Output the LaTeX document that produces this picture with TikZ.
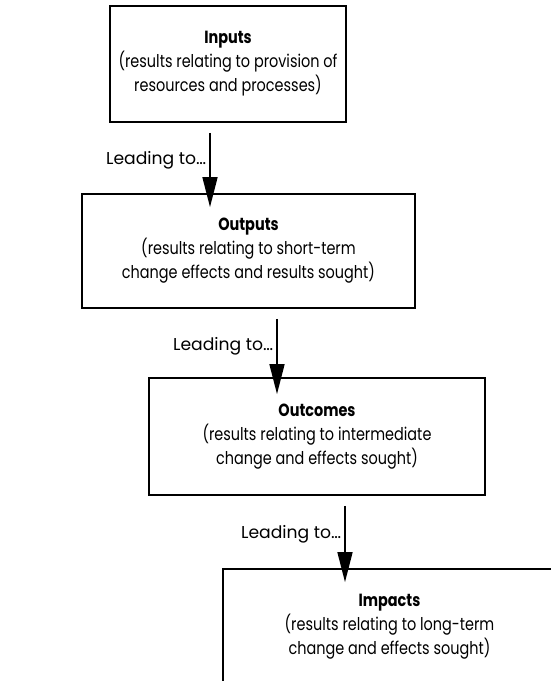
\documentclass[tikz,border=0pt]{standalone}
\usepackage{fontspec}
\setmainfont{Poppins}[FakeStretch=0.82]
\newfontfamily\leadfont{Poppins}
\usetikzlibrary{arrows.meta}

\begin{document}
\begin{tikzpicture}[x=1pt, y=-1pt,
    stage/.style={draw, line width=1.8pt, align=center, inner sep=0pt,
      font=\fontsize{17.6}{24}\selectfont},
    flow/.style={-{Triangle[length=30pt, width=15pt]}, line width=1.6pt},
    lead/.style={left, inner sep=3pt, font=\leadfont\fontsize{17.2}{20}\selectfont}]
  \useasboundingbox (0,0) rectangle (551,681);
  \clip (0,0) rectangle (551,681);

  % Inputs
  \node[stage, minimum width=236pt, minimum height=116pt] (inputs) at (228,64)
    {\textbf{Inputs}\\(results relating to provision of\\resources and processes)};

  % Outputs
  \node[stage, minimum width=333pt, minimum height=114pt] (outputs) at (248.5,251)
    {\textbf{Outputs}\\(results relating to short-term\\change effects and results sought)};

  % Outcomes
  \node[stage, minimum width=336pt, minimum height=117pt] (outcomes) at (317,436.5)
    {\textbf{Outcomes}\\(results relating to intermediate\\change and effects sought)};

  % Impacts (runs off the page)
  \node[stage, minimum width=333pt, minimum height=115pt] (impacts) at (389.5,626.5)
    {\textbf{Impacts}\\(results relating to long-term\\change and effects sought)};

  % Arrows
  \draw[flow] ([xshift=-18pt, yshift=-10pt]inputs.south)
    -- node[lead, pos=0.37] {Leading to…} ([xshift=-38.5pt, yshift=-14pt]outputs.north);
  \draw[flow] ([xshift=28.5pt, yshift=-10pt]outputs.south)
    -- node[lead, pos=0.37] {Leading to…} ([xshift=-40pt, yshift=-17pt]outcomes.north);
  \draw[flow] ([xshift=28pt, yshift=-10pt]outcomes.south)
    -- node[lead, pos=0.37] {Leading to…} ([xshift=-44.5pt, yshift=-14pt]impacts.north);
\end{tikzpicture}
\end{document}
